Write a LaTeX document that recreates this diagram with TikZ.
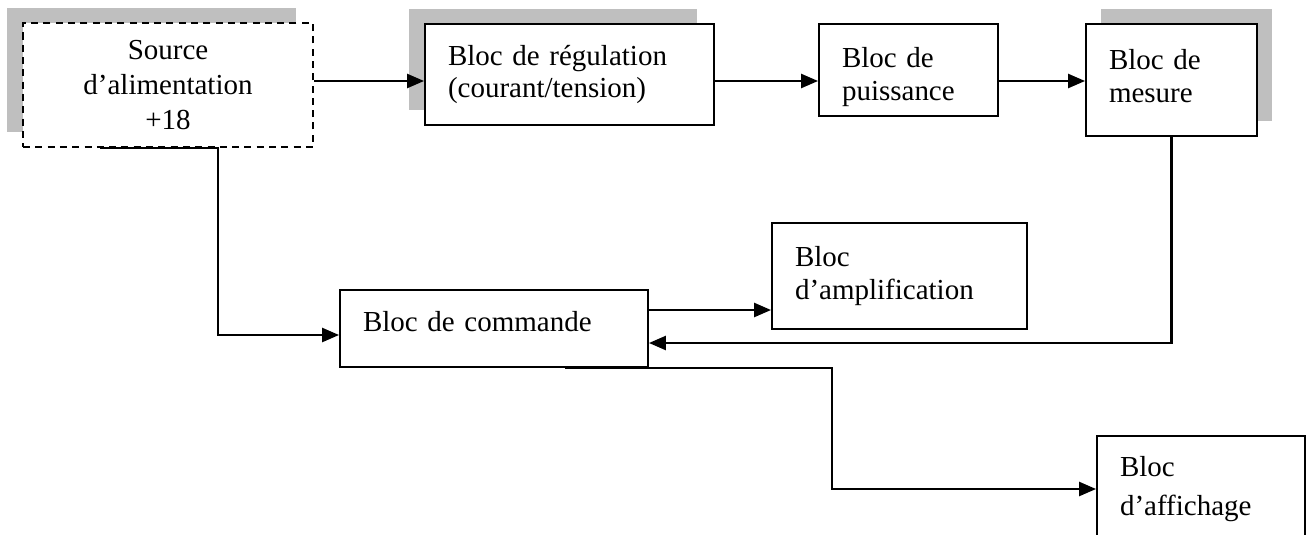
\documentclass[tikz,border=0pt]{standalone}
\usepackage{fontspec}
\setmainfont{Liberation Serif}
\usetikzlibrary{arrows.meta,shadows}

\begin{document}
\begin{tikzpicture}[x=0.02cm, y=-0.02cm,
% common options for blocks:
block/.style = {draw, fill=white, line width=1.1pt, align=left, inner xsep=0.46cm,
            font=\fontsize{16.5}{18.5}\selectfont},
% grey shadows behind some blocks:
shade left/.style = {drop shadow={shadow xshift=-0.33cm, shadow yshift=0.3cm,
            fill=black!25, opacity=1}},
shade right/.style = {drop shadow={shadow xshift=0.3cm, shadow yshift=0.3cm,
            fill=black!25, opacity=1}},
% common options for the connections:
link/.style = {line width=1.4pt, -{Triangle[length=0.34cm,width=0.28cm]}}]
\useasboundingbox (0,0) rectangle (1310,534);

\node[block, shade left, line width=1.4pt, dash pattern=on 4pt off 3pt, align=center,
      minimum width=5.8cm, minimum height=2.48cm,
      font=\fontsize{16.5}{20}\selectfont] (src) at (168,85) {Source\\d’alimentation\\+18};
\node[block, shade left, text width=4.86cm, minimum height=2.02cm] (reg) at (569.5,74.5) {Bloc de régulation\\(courant/tension)};
\node[block, text width=2.66cm, minimum height=1.84cm, text depth=0.5cm] (pui) at (908.5,70) {Bloc de\\puissance};
\node[block, shade right, text width=2.5cm, minimum height=2.24cm, text depth=0.82cm] (mes) at (1171.5,80) {Bloc de\\mesure};

\node[block, text width=5.24cm, minimum height=1.54cm, text depth=0.3cm] (cmd) at (494,328.5) {Bloc de commande};
\node[block, text width=4.18cm, minimum height=2.12cm] (amp) at (899.5,276) {Bloc\\d’amplification};
\node[block, text width=3.24cm, minimum height=2.12cm,
      font=\fontsize{16.5}{22}\selectfont] (aff) at (1201,489) {Bloc\\d’affichage};

% main chain
\coordinate (bus) at (0,81);
\draw[link] (src.east |- bus) -- (reg.west |- bus);
\draw[link] (reg.east |- bus) -- (pui.west |- bus);
\draw[link] (pui.east |- bus) -- (mes.west |- bus);

% supply and feedback to the control block
\draw[link] ([xshift=-1.36cm]src.south) -- ++(118,0) |- ([yshift=-0.13cm]cmd.west);
\draw[link] (mes.south) |- ([yshift=-0.29cm]cmd.east);

% outputs of the control block
\draw[link] ([yshift=0.37cm]cmd.east) coordinate (c1) -- (c1 -| amp.west);
\draw[link] ([xshift=1.42cm]cmd.south) -- ++(267,0) |- (aff.west);
\end{tikzpicture}
\end{document}
